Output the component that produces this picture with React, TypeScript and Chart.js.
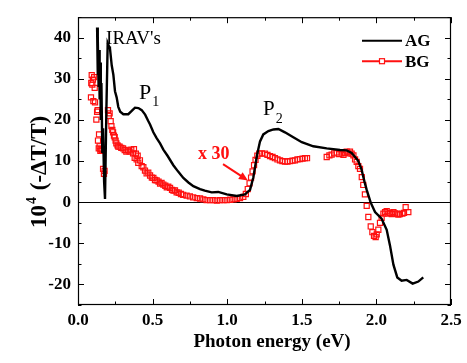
import React, { useEffect, useRef } from 'react';
import { Chart, registerables } from 'chart.js';

Chart.register(...registerables);

// ---- Data ----
const agX = [
  0.128, 0.131, 0.134, 0.138, 0.141, 0.145, 0.148, 0.153, 0.157, 0.163, 0.168, 0.175, 0.181,
  0.19, 0.199, 0.208, 0.214, 0.226, 0.237, 0.248, 0.259, 0.27, 0.283, 0.304, 0.337, 0.36,
  0.382, 0.405, 0.427, 0.45, 0.47, 0.483, 0.505, 0.527, 0.55, 0.572, 0.6, 0.639, 0.67, 0.706,
  0.74, 0.773, 0.818, 0.85, 0.896, 0.94, 0.997, 1.064, 1.119, 1.153, 1.175, 1.2, 1.22, 1.242,
  1.276, 1.31, 1.343, 1.387, 1.443, 1.5, 1.577, 1.667, 1.756, 1.8, 1.834, 1.857, 1.879, 1.9,
  1.92, 1.935, 1.962, 1.991, 2.035, 2.069, 2.091, 2.114, 2.14, 2.169, 2.203, 2.243, 2.281, 2.314,
];
const agY = [
  42.5, 31, 40, 28, 37, 25, 34, 20, 29, 12, 18, 5, 0.8,
  22, 38.7, 37.9, 37.5, 33.3, 31, 27, 25.5, 23.2, 22.0, 21.4, 21.4, 22.2,
  23.0, 22.9, 22.4, 21.3, 19.8, 18.9, 17.0, 15.6, 14.3, 12.8, 11.3, 9.0, 7.5, 5.9,
  4.8, 3.9, 3.2, 2.8, 2.4, 2.5, 1.9, 1.5, 1.9, 3.0, 6.0, 11.5, 14.8, 16.5,
  17.3, 17.7, 17.8, 17.0, 15.8, 14.6, 13.6, 13.1, 12.7, 12.6, 12.0, 11.0, 10.0, 8.0,
  5.0, 3.0, -0.1, -2.4, -4.0, -6.7, -10.5, -15.2, -18.3, -19.1, -18.9, -19.8, -19.3, -18.3,
];

const bgX = [
  0.087, 0.089, 0.092, 0.096, 0.1, 0.103, 0.108, 0.112, 0.114, 0.123, 0.128, 0.132, 0.134,
  0.139, 0.141, 0.145, 0.15, 0.152, 0.159, 0.168, 0.174, 0.178,
  0.201, 0.206, 0.212, 0.219, 0.224, 0.23, 0.235, 0.241, 0.246, 0.252, 0.257, 0.265, 0.27,
  0.279, 0.29, 0.302, 0.313, 0.324, 0.335, 0.346, 0.357, 0.369, 0.375, 0.38, 0.388, 0.393,
  0.4, 0.404, 0.415, 0.427, 0.438, 0.449, 0.46, 0.471, 0.483, 0.495, 0.505, 0.516, 0.527,
  0.54, 0.55, 0.56, 0.572, 0.585, 0.595, 0.605, 0.617, 0.63, 0.64, 0.65, 0.661, 0.675, 0.69,
  0.705, 0.728, 0.75, 0.772, 0.796, 0.818, 0.84, 0.862, 0.885, 0.907, 0.93, 0.952, 0.975,
  0.997, 1.02, 1.042, 1.064, 1.086, 1.108, 1.125, 1.138, 1.15, 1.16, 1.17, 1.18, 1.19, 1.202,
  1.215, 1.232, 1.253, 1.27, 1.287, 1.304, 1.32, 1.337, 1.354, 1.37, 1.387, 1.404, 1.421,
  1.438, 1.454, 1.471, 1.488, 1.505, 1.521, 1.535,
  1.667, 1.685, 1.7, 1.717, 1.734, 1.75, 1.767, 1.779, 1.79, 1.801, 1.812, 1.823, 1.834,
  1.846, 1.857, 1.868, 1.879, 1.89, 1.902, 1.912, 1.923, 1.935, 1.946, 1.962, 1.973, 1.984,
  1.995, 2.002, 2.013, 2.024, 2.035, 2.047, 2.058, 2.069, 2.08, 2.091, 2.103, 2.114, 2.125,
  2.136, 2.147, 2.158, 2.174, 2.185, 2.196, 2.214,
];
const bgY = [
  25.5, 29.0, 30.9, 28.6, 29.8, 24.6, 30.4, 27.8, 24.3, 20.1, 22.0, 22.4, 15.0,
  13.1, 16.5, 13.6, 12.5, 12.9, 12.7, 8.1, 6.9, 7.6,
  22.4, 21.0, 21.6, 19.7, 18.5, 17.6, 17.0, 16.2, 15.8, 15.0, 14.3, 13.8, 13.5,
  13.5, 13.2, 13.1, 12.7, 12.3, 12.6, 12.3, 12.8, 11.9, 12.9, 10.8, 11.8, 10.4,
  11.3, 9.6, 10.2, 8.8, 8.5, 7.7, 7.0, 7.2, 6.5, 6.0, 5.9, 5.4, 5.3,
  5.0, 4.5, 4.7, 4.3, 4.0, 3.6, 3.8, 3.5, 3.0, 2.8, 2.9, 2.4, 2.3, 2.0,
  1.8, 1.6, 1.4, 1.2, 1.0, 0.9, 0.7, 0.5, 0.5, 0.5, 0.4, 0.5, 0.5,
  0.5, 0.6, 0.7, 0.8, 1.0, 1.3, 2.0, 3.2, 4.6, 6.0, 7.5, 9.0, 10.3, 11.3,
  11.8, 11.9, 11.8, 11.5, 11.2, 11.0, 10.7, 10.4, 10.2, 10.0, 9.9, 9.9, 10.0,
  10.1, 10.2, 10.4, 10.5, 10.6, 10.7, 10.7,
  11.0, 11.4, 11.6, 11.9, 12.1, 11.7, 11.8, 11.5, 12.0, 12.3, 11.9, 12.3, 11.8,
  11.4, 10.4, 9.8, 8.8, 8.1, 6.1, 4.2, 1.9, -0.9, -3.6, -5.9, -7.3, -8.2,
  -8.5, -7.8, -6.7, -5.0, -3.8, -2.8, -2.4, -2.2, -2.8, -2.6, -2.9, -2.4, -2.7,
  -2.8, -3.0, -2.9, -2.8, -2.6, -1.2, -2.4,
];

const seriesNames = ['AG', 'BG'];
const xMin = 0, xMax = 2.5, xMajor = 0.5, xMinor = 0.25;
const yMin = -25, yMax = 45, yMajor = 10, yMinor = 5;
const xTitle = 'Photon energy (eV)';
const yTitleMain = '10';
const yTitleSup = '4';
const yTitleRest = ' (-\u0394T/T)';

const SERIF = '"Liberation Serif", "DejaVu Serif", serif';
const RED = '#ff1010';

function drawSub(ctx: CanvasRenderingContext2D, main: string, sub: string, px: number, py: number, size: number, subSize: number, dy: number) {
  ctx.font = `${size}px ${SERIF}`;
  ctx.fillText(main, px, py);
  const w = ctx.measureText(main).width;
  ctx.font = `${subSize}px ${SERIF}`;
  ctx.fillText(sub, px + w + 1, py + dy);
}

const decoPlugin = {
  id: 'deco',
  beforeDatasetsDraw(chart: any) {
    const { ctx, chartArea: a, scales } = chart;
    const y0 = Math.round(scales.y.getPixelForValue(0)) + 0.5;
    ctx.save();
    ctx.strokeStyle = '#000';
    ctx.lineWidth = 1;
    ctx.beginPath();
    ctx.moveTo(a.left, y0);
    ctx.lineTo(a.right, y0);
    ctx.stroke();
    ctx.restore();
  },
  afterDraw(chart: any) {
    const { ctx, chartArea: a, scales } = chart;
    const xs = scales.x, ys = scales.y;
    ctx.save();
    // frame
    ctx.strokeStyle = '#000';
    ctx.lineWidth = 1.2;
    ctx.strokeRect(a.left + 0.5, a.top + 0.5, a.right - a.left - 1, a.bottom - a.top - 1);
    // ticks, inward on all sides
    ctx.lineWidth = 1;
    ctx.beginPath();
    for (let v = xMin; v <= xMax + 1e-9; v += xMinor) {
      const major = Math.abs(v / xMajor - Math.round(v / xMajor)) < 1e-6;
      const L = major ? 6 : 3.5;
      const px = Math.round(xs.getPixelForValue(v)) + 0.5;
      ctx.moveTo(px, a.bottom); ctx.lineTo(px, a.bottom - L);
      ctx.moveTo(px, a.top); ctx.lineTo(px, a.top + L);
    }
    for (let v = yMin; v <= yMax + 1e-9; v += yMinor) {
      const major = Math.abs(v / yMajor - Math.round(v / yMajor)) < 1e-6;
      const L = major ? 6 : 3.5;
      const py = Math.round(ys.getPixelForValue(v)) + 0.5;
      ctx.moveTo(a.left, py); ctx.lineTo(a.left + L, py);
      ctx.moveTo(a.right, py); ctx.lineTo(a.right - L, py);
    }
    ctx.stroke();

    // annotations
    ctx.fillStyle = '#000';
    ctx.textAlign = 'left';
    ctx.textBaseline = 'alphabetic';
    ctx.font = `19px ${SERIF}`;
    ctx.fillText("IRAV's", xs.getPixelForValue(0.188), ys.getPixelForValue(38.6));
    drawSub(ctx, 'P', '1', xs.getPixelForValue(0.409), ys.getPixelForValue(25.1), 22, 14, 7);
    drawSub(ctx, 'P', '2', xs.getPixelForValue(1.24), ys.getPixelForValue(21.1), 21, 14, 8);

    ctx.fillStyle = RED;
    ctx.font = `bold 18px ${SERIF}`;
    ctx.fillText('x 30', xs.getPixelForValue(0.804), ys.getPixelForValue(10.4));
    // arrow
    const ax1 = xs.getPixelForValue(0.972), ay1 = ys.getPixelForValue(9.25);
    const ax2 = xs.getPixelForValue(1.139), ay2 = ys.getPixelForValue(5.29);
    ctx.strokeStyle = RED;
    ctx.lineWidth = 2;
    const ang = Math.atan2(ay2 - ay1, ax2 - ax1);
    ctx.beginPath();
    ctx.moveTo(ax1, ay1);
    ctx.lineTo(ax2 - 6 * Math.cos(ang), ay2 - 6 * Math.sin(ang));
    ctx.stroke();
    ctx.beginPath();
    ctx.moveTo(ax2, ay2);
    ctx.lineTo(ax2 - 9 * Math.cos(ang) + 4 * Math.sin(ang), ay2 - 9 * Math.sin(ang) - 4 * Math.cos(ang));
    ctx.lineTo(ax2 - 9 * Math.cos(ang) - 4 * Math.sin(ang), ay2 - 9 * Math.sin(ang) + 4 * Math.cos(ang));
    ctx.closePath();
    ctx.fillStyle = RED;
    ctx.fill();

    // legend
    const lx1 = a.right - 89, lx2 = a.right - 49, tx = a.right - 46;
    const ly1 = a.top + 23.5, ly2 = a.top + 44;
    ctx.strokeStyle = '#000';
    ctx.lineWidth = 2;
    ctx.beginPath(); ctx.moveTo(lx1, ly1); ctx.lineTo(lx2, ly1); ctx.stroke();
    ctx.strokeStyle = RED;
    ctx.beginPath(); ctx.moveTo(lx1, ly2); ctx.lineTo(lx2, ly2); ctx.stroke();
    const cx = (lx1 + lx2) / 2;
    ctx.fillStyle = '#fff';
    ctx.fillRect(cx - 2.5, ly2 - 2.5, 5, 5);
    ctx.lineWidth = 1.2;
    ctx.strokeRect(cx - 2.5, ly2 - 2.5, 5, 5);
    ctx.fillStyle = '#000';
    ctx.font = `bold 17px ${SERIF}`;
    ctx.textBaseline = 'middle';
    ctx.fillText(seriesNames[0], tx, ly1 + 1);
    ctx.fillText(seriesNames[1], tx, ly2 + 1);

    // axis titles
    ctx.textBaseline = 'alphabetic';
    ctx.textAlign = 'center';
    ctx.font = `bold 19px ${SERIF}`;
    ctx.fillText(xTitle, 272, 347);

    ctx.translate(46, 228);
    ctx.rotate(-Math.PI / 2);
    ctx.textAlign = 'left';
    ctx.font = `bold 23px ${SERIF}`;
    ctx.fillText(yTitleMain, 0, 0);
    let w = ctx.measureText(yTitleMain).width;
    ctx.font = `bold 14px ${SERIF}`;
    ctx.fillText(yTitleSup, w + 1, -10);
    w += ctx.measureText(yTitleSup).width + 2;
    ctx.font = `bold 23px ${SERIF}`;
    ctx.fillText(yTitleRest, w, 0);
    ctx.restore();
  },
};

export default function App() {
  const ref = useRef<HTMLCanvasElement | null>(null);
  useEffect(() => {
    if (!ref.current) return;
    const tickFont = { family: SERIF, size: 17, weight: 'bold' as const };
    const chart = new Chart(ref.current, {
      type: 'scatter',
      data: {
        datasets: [
          {
            label: seriesNames[0],
            data: agX.map((x, i) => ({ x, y: agY[i] })),
            showLine: true,
            borderColor: '#000',
            backgroundColor: '#000',
            borderWidth: 2.4,
            pointRadius: 0,
            tension: 0,
          },
          {
            label: seriesNames[1],
            data: bgX.map((x, i) => ({ x, y: bgY[i] })),
            showLine: false,
            pointStyle: 'rect',
            pointRadius: 3.6,
            borderColor: RED,
            backgroundColor: 'rgba(255,255,255,0)',
            borderWidth: 1.2,
          },
        ],
      },
      options: {
        animation: false,
        responsive: false,
        events: [],
        layout: { padding: { top: 4.5, right: 16, left: 0, bottom: 0 }, autoPadding: false },
        plugins: { legend: { display: false }, tooltip: { enabled: false } },
        scales: {
          x: {
            type: 'linear',
            min: xMin,
            max: xMax,
            afterFit: (s: any) => { s.height = 58; },
            grid: { display: false, drawTicks: false },
            border: { display: false },
            ticks: {
              stepSize: xMajor,
              autoSkip: false,
              maxRotation: 0,
              padding: 5,
              color: '#000',
              font: tickFont,
              callback: (v: any) => Number(v).toFixed(1),
            },
          },
          y: {
            type: 'linear',
            min: yMin,
            max: yMax,
            afterFit: (s: any) => { s.width = 78; },
            grid: { display: false, drawTicks: false },
            border: { display: false },
            ticks: {
              stepSize: yMinor,
              autoSkip: false,
              padding: 7,
              color: '#000',
              font: tickFont,
              callback: (v: any) => (Math.abs(Number(v) % yMajor) < 1e-6 ? String(v) : ''),
            },
          },
        },
      },
      plugins: [decoPlugin],
    });
    return () => chart.destroy();
  }, []);
  return (
    <div style={{ position: 'absolute', left: 0, top: 0, width: 467, height: 363, background: '#fff' }}>
      <canvas ref={ref} width={467} height={363} style={{ display: 'block' }} />
    </div>
  );
}
